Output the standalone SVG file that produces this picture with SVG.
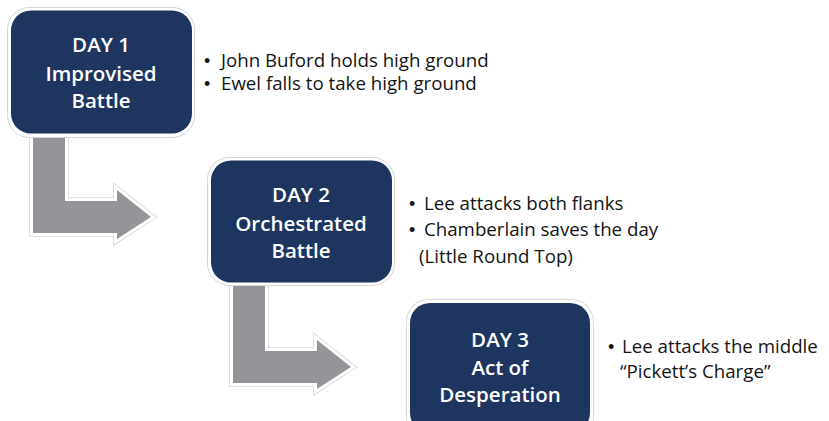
<svg xmlns="http://www.w3.org/2000/svg" width="829" height="421" viewBox="0 0 829 421">
  <defs>
    <style>
      .halo { fill: #ffffff; stroke: #d6d6d6; stroke-width: 1; }
      .card { fill: #1e365f; }
      .title { font-family: "Open Sans", "Liberation Sans", sans-serif; font-weight: 600; font-size: 20.5px; fill: #ffffff; text-anchor: middle; }
      .note { font-family: "Open Sans", "Liberation Sans", sans-serif; font-size: 18.7px; fill: #141414; }
      .dot { font-family: "Liberation Sans", sans-serif; font-size: 18px; fill: #141414; }
      .arrow-edge { fill: none; stroke: #d4d4d4; stroke-width: 7.5; stroke-linejoin: miter; }
      .arrow-rim { fill: none; stroke: #ffffff; stroke-width: 6; stroke-linejoin: miter; }
      .arrow { fill: #939598; }
    </style>
    <path id="bent-arrow" d="M33,130 L65,130 L65,201 L117,201 L117,190 L151,217 L117,239 L117,233 L33,233 Z"/>
  </defs>

  <rect width="829" height="421" fill="#ffffff"/>

  <!-- bent arrows leading from one day to the next -->
  <g id="connectors">
    <use href="#bent-arrow" class="arrow-edge"/>
    <use href="#bent-arrow" class="arrow-rim"/>
    <use href="#bent-arrow" class="arrow"/>
    <use href="#bent-arrow" class="arrow-edge" transform="translate(200,150)"/>
    <use href="#bent-arrow" class="arrow-rim" transform="translate(200,150)"/>
    <use href="#bent-arrow" class="arrow" transform="translate(200,150)"/>
  </g>

  <g id="day1">
    <rect class="halo" x="7.5" y="7.5" width="187" height="130" rx="22"/>
    <rect class="card" x="11" y="10.5" width="181" height="123" rx="20"/>
    <text class="title" x="101" y="52">DAY 1</text>
    <text class="title" x="101" y="81">Improvised</text>
    <text class="title" x="101" y="108">Battle</text>
    <text class="dot" x="204" y="67">•</text>
    <text class="note" x="221" y="67">John Buford holds high ground</text>
    <text class="dot" x="204" y="90">•</text>
    <text class="note" x="221" y="90">Ewel falls to take high ground</text>
  </g>

  <g id="day2">
    <rect class="halo" x="207.5" y="157.5" width="187" height="128" rx="22"/>
    <rect class="card" x="211" y="160.5" width="181" height="122" rx="20"/>
    <text class="title" x="301" y="202">DAY 2</text>
    <text class="title" x="301" y="231">Orchestrated</text>
    <text class="title" x="301" y="258">Battle</text>
    <text class="dot" x="409" y="210">•</text>
    <text class="note" x="424" y="210">Lee attacks both flanks</text>
    <text class="dot" x="409" y="236">•</text>
    <text class="note" x="424" y="236">Chamberlain saves the day</text>
    <text class="note" x="419" y="263">(Little Round Top)</text>
  </g>

  <g id="day3">
    <rect class="halo" x="406.5" y="299.5" width="187" height="140" rx="22"/>
    <rect class="card" x="410" y="303" width="180" height="130" rx="20"/>
    <text class="title" x="500" y="347">DAY 3</text>
    <text class="title" x="500" y="375">Act of</text>
    <text class="title" x="500" y="402">Desperation</text>
    <text class="dot" x="608" y="353">•</text>
    <text class="note" x="622" y="353">Lee attacks the middle</text>
    <text class="note" x="620" y="378">“Pickett’s Charge”</text>
  </g>
</svg>
